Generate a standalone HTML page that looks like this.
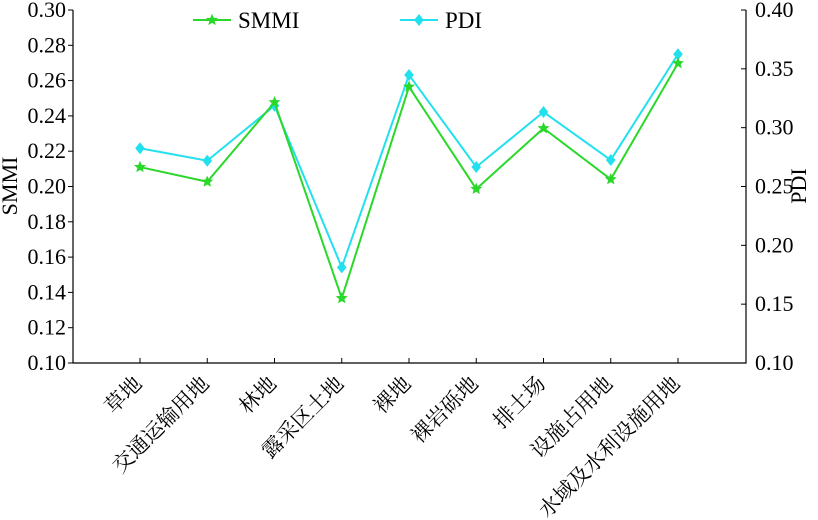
<!DOCTYPE html>
<html><head><meta charset="utf-8"><style>
html,body{margin:0;padding:0;background:#fff;}
svg{display:block;font-family:"Liberation Serif","Noto Serif CJK SC","Noto Sans CJK SC",serif;}
</style></head><body>
<svg id="chart" width="818" height="520"></svg>
<script>
const categories = ["草地","交通运输用地","林地","露采区土地","裸地","裸岩砾地","排土场","设施占用地","水域及水利设施用地"];
const smmiValues = [0.2110,0.2027,0.2477,0.1367,0.2565,0.1986,0.2330,0.2041,0.2698];
const pdiValues = [0.2825,0.2719,0.3187,0.1813,0.3448,0.2666,0.3133,0.2725,0.3624];
const leftTicks = ["0.10","0.12","0.14","0.16","0.18","0.20","0.22","0.24","0.26","0.28","0.30"];
const rightTicks = ["0.10","0.15","0.20","0.25","0.30","0.35","0.40"];

const NS="http://www.w3.org/2000/svg";
const svg=document.getElementById('chart');
const L=73,R=746,T=10,B=363;
const x0=140,dx=(678-140)/8;
function xs(i){return x0+i*dx;}
function yl(v){return B-(v-0.10)/0.20*(B-T);}
function yr(v){return B-(v-0.10)/0.30*(B-T);}
function el(tag,attrs,parent){const e=document.createElementNS(NS,tag);for(const k in attrs)e.setAttribute(k,attrs[k]);(parent||svg).appendChild(e);return e;}

const ax=el('path',{d:`M${L},${T}V${B}H${R}V${T}`,fill:'none',stroke:'#000','stroke-width':1.2});



leftTicks.forEach(t=>{
  const y=yl(parseFloat(t));
  const tk=el('line',{x1:L-5,x2:L,y1:y,y2:y,stroke:'#000','stroke-width':1});
  
  
  const tx=el('text',{x:L-7,y:y+7,'text-anchor':'end','font-size':22});
  tx.textContent=t;
  
  
});
rightTicks.forEach(t=>{
  const y=yr(parseFloat(t));
  const tk=el('line',{x1:R-5,x2:R,y1:y,y2:y,stroke:'#000','stroke-width':1});
  
  
  const tx=el('text',{x:R+9,y:y+7,'text-anchor':'start','font-size':22});
  tx.textContent=t;
  
  
});
categories.forEach((c,i)=>{
  const x=xs(i);
  const tk=el('line',{x1:x,x2:x,y1:B-5,y2:B,stroke:'#000','stroke-width':1});
  
  
  const ax_=x+3, ay=B+22;
  const tx=el('text',{x:ax_,y:ay,'text-anchor':'end','font-size':21,transform:`rotate(-45 ${ax_} ${ay})`});
  tx.textContent=c;
  
  
});

const yt=el('text',{x:17,y:186,'text-anchor':'middle','font-size':22,transform:'rotate(-90 17 186)'});
yt.textContent='SMMI';


const yt2=el('text',{x:806,y:186,'text-anchor':'middle','font-size':22,transform:'rotate(-90 806 186)'});
yt2.textContent='PDI';



function star(cx,cy,r,color,parent){
  let d='';
  for(let k=0;k<10;k++){const a=-Math.PI/2+k*Math.PI/5;const rr=k%2?r*0.45:r;d+=(k?'L':'M')+(cx+rr*Math.cos(a)).toFixed(2)+','+(cy+rr*Math.sin(a)).toFixed(2);}
  return el('path',{d:d+'Z',fill:color,stroke:color,'stroke-width':0.6},parent);
}
function diamond(cx,cy,r,color,parent){
  return el('path',{d:`M${cx},${cy-r}L${cx+r*0.8},${cy}L${cx},${cy+r}L${cx-r*0.8},${cy}Z`,fill:color},parent);
}

const pdiColor='#22e0ee', smmiColor='#2ad82a';
const gp=el('g',{});


const pl=el('polyline',{points:pdiValues.map((v,i)=>xs(i)+','+yr(v)).join(' '),fill:'none',stroke:pdiColor,'stroke-width':2},gp);


pdiValues.forEach((v,i)=>{
  const m=diamond(xs(i),yr(v),6,pdiColor,gp);
  
  
});
const gs=el('g',{});


const sl=el('polyline',{points:smmiValues.map((v,i)=>xs(i)+','+yl(v)).join(' '),fill:'none',stroke:smmiColor,'stroke-width':2},gs);


smmiValues.forEach((v,i)=>{
  const m=star(xs(i),yl(v),5.5,smmiColor,gs);
  
  
});

const lg=el('g',{});


const l1=el('line',{x1:193,x2:231,y1:20,y2:20,stroke:smmiColor,'stroke-width':2},lg);


star(212,20,5.5,smmiColor,lg);
const t1=el('text',{x:238,y:28,'font-size':23},lg);
t1.textContent='SMMI';


const l2=el('line',{x1:400,x2:438,y1:20,y2:20,stroke:pdiColor,'stroke-width':2},lg);


diamond(419,20,6,pdiColor,lg);
const t2=el('text',{x:445,y:28,'font-size':23},lg);
t2.textContent='PDI';


</script>
</body></html>
